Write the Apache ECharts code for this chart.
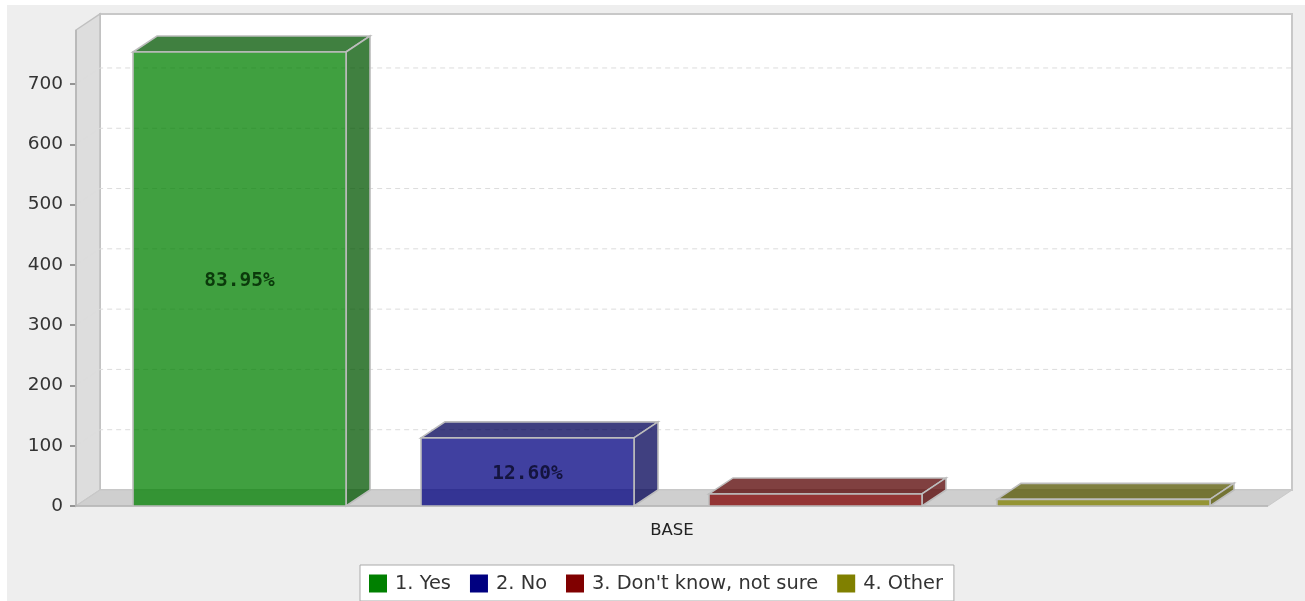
<!DOCTYPE html>
<html><head><meta charset="utf-8">
<style>
html,body{margin:0;padding:0;background:#fff;width:1305px;height:601px;overflow:hidden}
#bg{position:absolute;left:7px;top:5px;width:1298px;height:596px;background:#eeeeee}
#c{position:absolute;left:0;top:0;width:1305px;height:601px}
</style>
<script src="https://cdn.jsdelivr.net/npm/echarts@6/dist/echarts.min.js"></script>
</head><body><div id="bg"></div><div id="c"></div>
<script>
const categories = ['BASE'];
const seriesNames = ['1. Yes', '2. No', "3. Don't know, not sure", '4. Other'];
const seriesValues = [753, 113, 20, 11];
const seriesLabels = ['83.95%', '12.60%', '', ''];
const seriesColors = ['#008000', '#000080', '#800000', '#808000'];
const sideColors = ['#005500', '#000055', '#550000', '#555500'];
const yTicks = [0, 100, 200, 300, 400, 500, 600, 700];

const DX = 24, DY = -16, EDGE = '#bdbdbd';
const MONO = '"DejaVu Sans Mono", monospace';
function poly(points, fill, stroke, lw) {
  return {type: 'polygon', shape: {points}, silent: true,
    style: {fill, stroke: stroke || null, lineWidth: lw || 0, opacity: 1}};
}
function renderBackdrop(params, api) {
  const g = params.coordSys, L = g.x, R = g.x + g.width, T = g.y, B = g.y + g.height;
  const children = [
    poly([[L + DX, T + DY], [R + DX, T + DY], [R + DX, B + DY], [L + DX, B + DY]], '#ffffff', '#c8c8c8', 2),
    poly([[L, T], [L + DX, T + DY], [L + DX, B + DY], [L, B]], '#dddddd', '#c0c0c0', 1.5),
    poly([[L, B], [L + DX, B + DY], [R + DX, B + DY], [R, B]], '#cfcfcf', '#c8c8c8', 1)
  ];
  yTicks.slice(1).forEach(v => {
    const y = api.coord([0, v])[1];
    children.push({type: 'polyline', silent: true,
      shape: {points: [[L, y], [L + DX, y + DY], [R + DX - 1, y + DY]]},
      style: {fill: null, stroke: '#dcdcdc', lineWidth: 1, lineDash: [5, 4]}});
  });
  children.push({type: 'line', silent: true, shape: {x1: L, y1: B, x2: R, y2: B},
    style: {stroke: '#b4b4b4', lineWidth: 1.5}});
  children.push({type: 'line', silent: true, shape: {x1: L, y1: T, x2: L, y2: B},
    style: {stroke: '#b4b4b4', lineWidth: 1.5}});
  return {type: 'group', children};
}
function renderBar(i) {
  return function (params, api) {
    const g = params.coordSys;
    const band = g.width, w = band * 0.1787, step = band * 0.2416;
    const cx = g.x + band / 2 + (i - 1.5) * step - 0.5;
    const x0 = cx - w / 2, x1 = cx + w / 2;
    const yt = api.coord([0, api.value(1)])[1], yb = api.coord([0, 0])[1];
    const front = 'rgba(' + hexRgb(seriesColors[i]) + ',0.75)';
    const dark = 'rgba(' + hexRgb(sideColors[i]) + ',0.75)';
    const children = [
      poly([[x0, yt], [x0 + DX, yt + DY], [x1 + DX, yt + DY], [x1, yt]], dark, EDGE, 1.6),
      poly([[x1, yt], [x1 + DX, yt + DY], [x1 + DX, yb + DY], [x1, yb]], dark, EDGE, 1.6),
      poly([[x0, yt], [x1, yt], [x1, yb], [x0, yb]], front, EDGE, 1.6)
    ];
    if (seriesLabels[i]) {
      children.push({type: 'text', silent: true, style: {
        x: cx, y: (yt + yb) / 2 + 2, text: seriesLabels[i], align: 'center', verticalAlign: 'middle',
        font: 'bold 19.5px ' + MONO, fill: i === 0 ? '#0b3a0b' : '#14143f'}});
    }
    return {type: 'group', children};
  };
}
function hexRgb(h) {
  return [1, 3, 5].map(k => parseInt(h.substr(k, 2), 16)).join(',');
}
const series = [{
  type: 'custom', name: '__backdrop', coordinateSystem: 'cartesian2d', clip: false, silent: true,
  renderItem: renderBackdrop, data: [[0, 0]], encode: {x: 0, y: 1}, z: 1
}];
seriesNames.forEach((name, i) => series.push({
  type: 'custom', name, coordinateSystem: 'cartesian2d', clip: false, silent: true,
  renderItem: renderBar(i), data: [[0, seriesValues[i]]], encode: {x: 0, y: 1},
  itemStyle: {color: seriesColors[i]}, z: 3
}));
const chart = echarts.init(document.getElementById('c'), null, {renderer: 'canvas'});
chart.setOption({
  animation: false,
  backgroundColor: 'transparent',
  grid: {left: 76, top: 30, width: 1192, height: 476, containLabel: false},
  xAxis: {type: 'category', data: categories, axisLine: {show: false}, axisTick: {show: false},
    axisLabel: {color: '#222', fontFamily: '"DejaVu Sans"', fontSize: 16.5, margin: 16}},
  yAxis: {type: 'value', min: 0, max: 789.5, interval: 100,
    splitLine: {show: false},
    axisLine: {show: false},
    axisTick: {show: true, length: 6, customValues: yTicks, lineStyle: {color: '#777', width: 1.5}},
    axisLabel: {customValues: yTicks, color: '#333', fontFamily: '"DejaVu Sans"', fontSize: 18.5, margin: 13, padding: [2, 0, 0, 0]}},
  legend: {
    data: seriesNames, left: 360, top: 565, orient: 'horizontal', icon: 'rect',
    itemWidth: 18, itemHeight: 18, itemGap: 19, padding: [9, 11, 8, 9],
    backgroundColor: '#fff', borderColor: '#aaa', borderWidth: 1, borderRadius: 0,
    selectedMode: false,
    textStyle: {color: '#333', fontFamily: '"DejaVu Sans"', fontSize: 19.4, padding: [0, 0, 0, 3]}
  },
  series
});
</script></body></html>
